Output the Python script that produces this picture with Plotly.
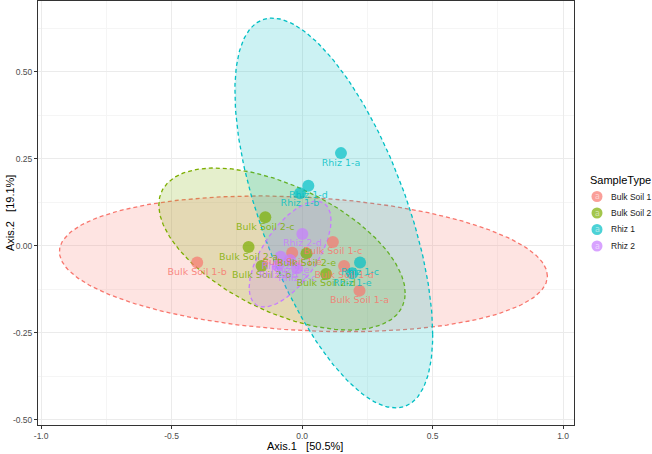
import numpy as np
import plotly.graph_objects as go

# ---------------- data ----------------
groups = ["Bulk Soil 1", "Bulk Soil 2", "Rhiz 1", "Rhiz 2"]
colors = ["#F8766D", "#7CAE00", "#00BFC4", "#C77CFF"]

bs1_labels = ["Bulk Soil 1-a", "Bulk Soil 1-b", "Bulk Soil 1-c", "Bulk Soil 1-d", "Bulk Soil 1-e"]
bs1_x = [0.220, -0.402, 0.118, 0.161, -0.038]
bs1_y = [-0.129, -0.048, 0.011, -0.058, -0.020]

bs2_labels = ["Bulk Soil 2-a", "Bulk Soil 2-b", "Bulk Soil 2-c", "Bulk Soil 2-d", "Bulk Soil 2-e"]
bs2_x = [-0.205, -0.155, -0.141, 0.092, 0.017]
bs2_y = [-0.004, -0.058, 0.082, -0.081, -0.022]

rh1_labels = ["Rhiz 1-a", "Rhiz 1-b", "Rhiz 1-c", "Rhiz 1-d", "Rhiz 1-e"]
rh1_x = [0.149, -0.008, 0.222, 0.024, 0.192]
rh1_y = [0.266, 0.151, -0.048, 0.172, -0.079]

rh2_labels = ["Rhiz 2-a", "Rhiz 2-b", "Rhiz 2-c", "Rhiz 2-d", "Rhiz 2-e"]
rh2_x = [-0.082, -0.092, -0.019, 0.001, -0.046]
rh2_y = [-0.032, -0.058, -0.065, 0.034, -0.041]

# ellipse parameters (center x, half x-extent, center y, half y-extent, phase cosine)
ell_cx = [0.005, -0.077, 0.1215, -0.046]
ell_ax = [0.935, 0.472, 0.379, 0.157]
ell_cy = [-0.052, -0.0095, 0.094, -0.024]
ell_ay = [0.195, 0.2328, 0.560, 0.152]
ell_cphi = [-0.18, -0.543, -0.624, 0.637]

x_tickvals = [-1.0, -0.5, 0.0, 0.5, 1.0]
x_ticktext = ["-1.0", "-0.5", "0.0", "0.5", "1.0"]
y_tickvals = [-0.5, -0.25, 0.0, 0.25, 0.5]
y_ticktext = ["-0.50", "-0.25", "0.00", "0.25", "0.50"]

xs = [bs1_x, bs2_x, rh1_x, rh2_x]
ys = [bs1_y, bs2_y, rh1_y, rh2_y]
labs = [bs1_labels, bs2_labels, rh1_labels, rh2_labels]

W, H = 652, 454
ML, MR, MT, MB = 38, 78, 1, 29
PW, PH = W - ML - MR, H - MT - MB


def rgba(hexc, a):
    h = hexc.lstrip("#")
    r, g, b = int(h[0:2], 16), int(h[2:4], 16), int(h[4:6], 16)
    return f"rgba({r},{g},{b},{a})"


def px2paper_x(px):
    return (px - ML) / PW


def px2paper_y(py):
    return (H - MB - py) / PH


fig = go.Figure()

t = np.linspace(0, 2 * np.pi, 241)
for i, g in enumerate(groups):
    phi = np.arccos(ell_cphi[i])
    ex = ell_cx[i] + ell_ax[i] * np.cos(t)
    ey = ell_cy[i] + ell_ay[i] * np.cos(t - phi)
    fig.add_trace(go.Scatter(
        x=ex, y=ey, mode="lines", fill="toself",
        fillcolor=rgba(colors[i], 0.2),
        line=dict(color=colors[i], width=1.3, dash="4px,3px"),
        hoverinfo="skip", showlegend=False))

for i, g in enumerate(groups):
    fig.add_trace(go.Scatter(
        x=xs[i], y=ys[i], mode="markers", name=g,
        marker=dict(size=12, color=rgba(colors[i], 0.7), line=dict(width=0)),
        showlegend=False))

for i, g in enumerate(groups):
    fig.add_trace(go.Scatter(
        x=xs[i], y=ys[i], mode="markers+text", text=labs[i],
        textposition="bottom center",
        marker=dict(size=7, opacity=0),
        textfont=dict(family="DejaVu Sans", size=9.5, color=rgba(colors[i], 0.85)),
        hoverinfo="skip", showlegend=False))

axis_common = dict(
    showline=True, linecolor="#333333", linewidth=1, mirror=True,
    showgrid=True, gridcolor="#EBEBEB", gridwidth=0.8,
    zeroline=False, ticks="outside", ticklen=3, tickcolor="#333333",
    automargin=False,
    tickfont=dict(family="Liberation Sans", size=8.5, color="#4D4D4D"),
)

fig.update_xaxes(
    range=[-1.012, 1.042], tickvals=x_tickvals, ticktext=x_ticktext,
    minor=dict(dtick=0.25, tick0=0, showgrid=True, gridcolor="#F5F5F5", gridwidth=0.5),
    **axis_common)
fig.update_yaxes(
    range=[-0.515, 0.703], tickvals=y_tickvals, ticktext=y_ticktext,
    minor=dict(dtick=0.125, tick0=0.125, showgrid=True, gridcolor="#F5F5F5", gridwidth=0.5),
    **axis_common)

annotations = [
    dict(x=px2paper_x(305), y=px2paper_y(446), xref="paper", yref="paper",
         text="Axis.1   [50.5%]", showarrow=False, xanchor="center", yanchor="middle",
         font=dict(family="Liberation Sans", size=11, color="#000000")),
    dict(x=px2paper_x(10), y=px2paper_y(213), xref="paper", yref="paper",
         text="Axis.2   [19.1%]", showarrow=False, xanchor="center", yanchor="middle",
         textangle=-90, font=dict(family="Liberation Sans", size=11, color="#000000")),
]

# manual legend (ggplot-style keys)
shapes = []
annotations.append(dict(
    x=px2paper_x(588), y=px2paper_y(180), xref="paper", yref="paper",
    text="SampleType", showarrow=False, xanchor="left", yanchor="middle",
    font=dict(family="Liberation Sans", size=11, color="#000000")))
key_y = [196.5, 213, 229.5, 246]
for i, g in enumerate(groups):
    cy = key_y[i]
    shapes.append(dict(
        type="circle", xref="paper", yref="paper",
        x0=px2paper_x(597 - 5.5), x1=px2paper_x(597 + 5.5),
        y0=px2paper_y(cy + 5.5), y1=px2paper_y(cy - 5.5),
        fillcolor=rgba(colors[i], 0.7), line=dict(width=0), layer="above"))
    annotations.append(dict(
        x=px2paper_x(597), y=px2paper_y(cy), xref="paper", yref="paper",
        text="a", showarrow=False, xanchor="center", yanchor="middle",
        font=dict(family="DejaVu Sans", size=8, color="rgba(255,255,255,0.55)")))
    annotations.append(dict(
        x=px2paper_x(609), y=px2paper_y(cy), xref="paper", yref="paper",
        text=g, showarrow=False, xanchor="left", yanchor="middle",
        font=dict(family="Liberation Sans", size=8.5, color="#1A1A1A")))

fig.update_layout(
    template="none",
    width=W, height=H,
    margin=dict(l=ML, r=MR, t=MT, b=MB, autoexpand=False),
    plot_bgcolor="white", paper_bgcolor="white",
    showlegend=False,
    shapes=shapes, annotations=annotations,
)

fig.write_html("out.html", config={"displayModeBar": False},
               post_script="document.body.style.margin='0';document.body.style.overflow='hidden';")
